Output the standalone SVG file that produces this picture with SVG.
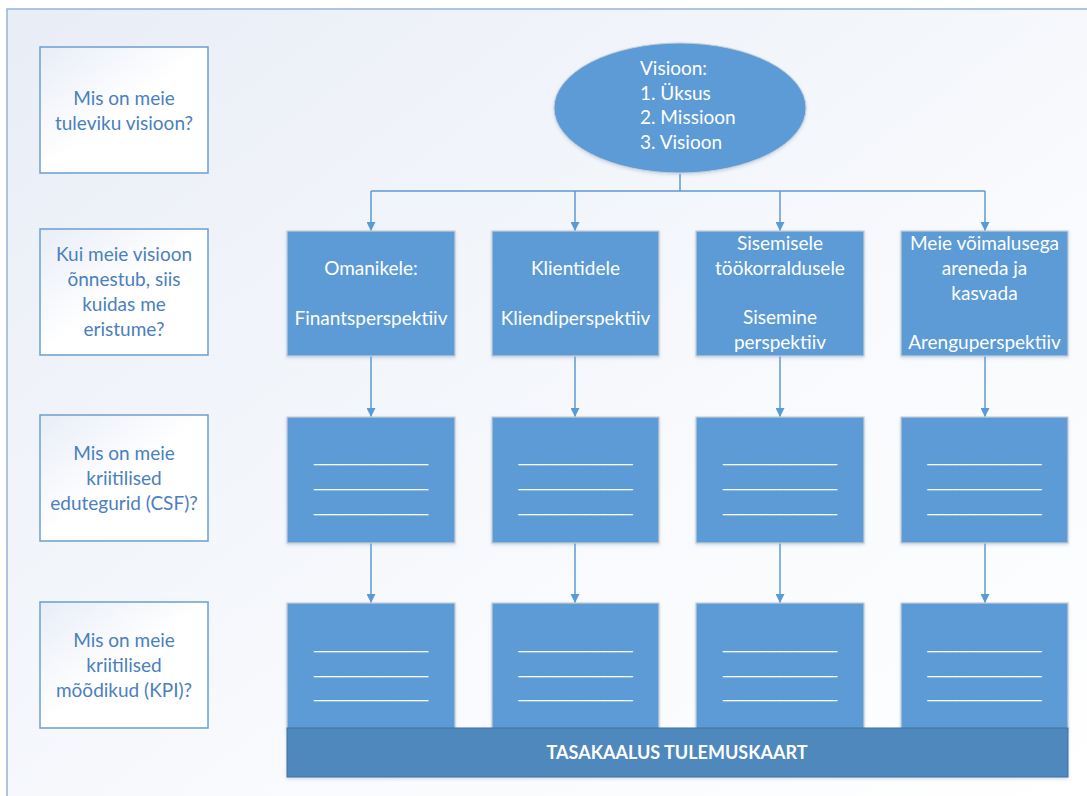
<svg xmlns="http://www.w3.org/2000/svg" width="1087" height="796" viewBox="0 0 1087 796">
<defs>
<linearGradient id="bg" x1="0" y1="0" x2="1" y2="1">
<stop offset="0" stop-color="#E9EDF6"/>
<stop offset="0.6" stop-color="#F8FAFD"/>
<stop offset="1" stop-color="#FFFFFF"/>
</linearGradient>
<linearGradient id="q" x1="0" y1="0" x2="1" y2="1">
<stop offset="0" stop-color="#E8EDF7"/>
<stop offset="0.5" stop-color="#FFFFFF"/>
<stop offset="1" stop-color="#FFFFFF"/>
</linearGradient>
<marker id="ah" viewBox="0 0 10 10" refX="10" refY="5" markerWidth="9" markerHeight="9" markerUnits="userSpaceOnUse" orient="auto">
<path d="M0,0 L10,5 L0,10 Z" fill="#5B9BD5"/>
</marker>
<filter id="sh" x="-5%" y="-5%" width="110%" height="115%">
<feDropShadow dx="0" dy="1.5" stdDeviation="1.5" flood-color="#7F9FC8" flood-opacity="0.35"/>
</filter>
</defs>
<style>
.q{fill:url(#q);stroke:#6A9ED3;stroke-width:1.5}
.qt{font-family:Lato,"Open Sans","Liberation Sans",sans-serif;font-size:19px;fill:#4A80BD;text-anchor:middle}
.b{fill:#5B9BD5;stroke:#C9CED6;stroke-width:1.2;filter:url(#sh)}
.bt{font-family:Lato,"Open Sans","Liberation Sans",sans-serif;font-size:19px;fill:#FFFFFF;text-anchor:middle}
.u{font-family:"Liberation Sans",sans-serif;font-size:18px;fill:#FFFFFF;text-anchor:middle}
.c{fill:none;stroke:#5B9BD5;stroke-width:1.5}
</style>
<rect x="0" y="0" width="1087" height="796" fill="#FFFFFF"/>
<rect x="7" y="9" width="1090" height="800" fill="url(#bg)" stroke="#95B3D7" stroke-width="1.5"/>

<g id="q1"><rect class="q" x="40" y="47" width="168" height="126"/>
<text class="qt" x="124" y="105">Mis on meie</text><text class="qt" x="124" y="130">tuleviku visioon?</text></g>
<g id="q2"><rect class="q" x="40" y="229" width="168" height="126"/>
<text class="qt" x="124" y="261">Kui meie visioon</text><text class="qt" x="124" y="286">õnnestub, siis</text><text class="qt" x="124" y="311">kuidas me</text><text class="qt" x="124" y="336">eristume?</text></g>
<g id="q3"><rect class="q" x="40" y="415" width="168" height="126"/>
<text class="qt" x="124" y="460">Mis on meie</text><text class="qt" x="124" y="485">kriitilised</text><text class="qt" x="124" y="510">edutegurid (CSF)?</text></g>
<g id="q4"><rect class="q" x="40" y="602" width="168" height="126"/>
<text class="qt" x="124" y="647">Mis on meie</text><text class="qt" x="124" y="672">kriitilised</text><text class="qt" x="124" y="697">mõõdikud (KPI)?</text></g>

<g id="connectors">
<path class="c" d="M680,174 V191 M371,191 H985"/>
<path class="c" d="M371,191 V231" marker-end="url(#ah)"/>
<path class="c" d="M575,191 V231" marker-end="url(#ah)"/>
<path class="c" d="M780,191 V231" marker-end="url(#ah)"/>
<path class="c" d="M985,191 V231" marker-end="url(#ah)"/>
<path class="c" d="M371,356 V417" marker-end="url(#ah)"/>
<path class="c" d="M575,356 V417" marker-end="url(#ah)"/>
<path class="c" d="M780,356 V417" marker-end="url(#ah)"/>
<path class="c" d="M985,356 V417" marker-end="url(#ah)"/>
<path class="c" d="M371,543 V603" marker-end="url(#ah)"/>
<path class="c" d="M575,543 V603" marker-end="url(#ah)"/>
<path class="c" d="M780,543 V603" marker-end="url(#ah)"/>
<path class="c" d="M985,543 V603" marker-end="url(#ah)"/>
</g>

<g id="vision"><ellipse cx="680" cy="108" rx="126" ry="65" fill="#5B9BD5" stroke="#C9CED6" stroke-width="1" filter="url(#sh)"/>
<text class="bt" style="text-anchor:start" x="640" y="75">Visioon:</text>
<text class="bt" style="text-anchor:start" x="640" y="100">1. Üksus</text>
<text class="bt" style="text-anchor:start" x="640" y="124">2. Missioon</text>
<text class="bt" style="text-anchor:start" x="640" y="149">3. Visioon</text></g>

<g id="p1"><rect class="b" x="287" y="231" width="168" height="125"/>
<text class="bt" x="371" y="275">Omanikele:</text><text class="bt" x="371" y="325">Finantsperspektiiv</text></g>
<g id="p2"><rect class="b" x="492" y="231" width="167" height="125"/>
<text class="bt" x="575.5" y="275">Klientidele</text><text class="bt" x="575.5" y="325">Kliendiperspektiiv</text></g>
<g id="p3"><rect class="b" x="696" y="231" width="168" height="125"/>
<text class="bt" x="780" y="250">Sisemisele</text><text class="bt" x="780" y="275">töökorraldusele</text><text class="bt" x="780" y="324">Sisemine</text><text class="bt" x="780" y="349">perspektiiv</text></g>
<g id="p4"><rect class="b" x="901" y="231" width="167" height="125"/>
<text class="bt" x="984.5" y="250">Meie võimalusega</text><text class="bt" x="984.5" y="275">areneda ja</text><text class="bt" x="984.5" y="300">kasvada</text><text class="bt" x="984.5" y="349">Arenguperspektiiv</text></g>

<g id="csf1"><rect class="b" x="287" y="417" width="168" height="126"/>
<text class="u" x="371" y="461" textLength="114" lengthAdjust="spacingAndGlyphs">____________</text>
<text class="u" x="371" y="486" textLength="114" lengthAdjust="spacingAndGlyphs">____________</text>
<text class="u" x="371" y="511" textLength="114" lengthAdjust="spacingAndGlyphs">____________</text></g>
<g id="csf2"><rect class="b" x="492" y="417" width="167" height="126"/>
<text class="u" x="575.5" y="461" textLength="114" lengthAdjust="spacingAndGlyphs">____________</text>
<text class="u" x="575.5" y="486" textLength="114" lengthAdjust="spacingAndGlyphs">____________</text>
<text class="u" x="575.5" y="511" textLength="114" lengthAdjust="spacingAndGlyphs">____________</text></g>
<g id="csf3"><rect class="b" x="696" y="417" width="168" height="126"/>
<text class="u" x="780" y="461" textLength="114" lengthAdjust="spacingAndGlyphs">____________</text>
<text class="u" x="780" y="486" textLength="114" lengthAdjust="spacingAndGlyphs">____________</text>
<text class="u" x="780" y="511" textLength="114" lengthAdjust="spacingAndGlyphs">____________</text></g>
<g id="csf4"><rect class="b" x="901" y="417" width="167" height="126"/>
<text class="u" x="984.5" y="461" textLength="114" lengthAdjust="spacingAndGlyphs">____________</text>
<text class="u" x="984.5" y="486" textLength="114" lengthAdjust="spacingAndGlyphs">____________</text>
<text class="u" x="984.5" y="511" textLength="114" lengthAdjust="spacingAndGlyphs">____________</text></g>

<g id="kpi1"><rect class="b" x="287" y="603" width="168" height="126"/>
<text class="u" x="371" y="648" textLength="114" lengthAdjust="spacingAndGlyphs">____________</text>
<text class="u" x="371" y="673" textLength="114" lengthAdjust="spacingAndGlyphs">____________</text>
<text class="u" x="371" y="697" textLength="114" lengthAdjust="spacingAndGlyphs">____________</text></g>
<g id="kpi2"><rect class="b" x="492" y="603" width="167" height="126"/>
<text class="u" x="575.5" y="648" textLength="114" lengthAdjust="spacingAndGlyphs">____________</text>
<text class="u" x="575.5" y="673" textLength="114" lengthAdjust="spacingAndGlyphs">____________</text>
<text class="u" x="575.5" y="697" textLength="114" lengthAdjust="spacingAndGlyphs">____________</text></g>
<g id="kpi3"><rect class="b" x="696" y="603" width="168" height="126"/>
<text class="u" x="780" y="648" textLength="114" lengthAdjust="spacingAndGlyphs">____________</text>
<text class="u" x="780" y="673" textLength="114" lengthAdjust="spacingAndGlyphs">____________</text>
<text class="u" x="780" y="697" textLength="114" lengthAdjust="spacingAndGlyphs">____________</text></g>
<g id="kpi4"><rect class="b" x="901" y="603" width="167" height="126"/>
<text class="u" x="984.5" y="648" textLength="114" lengthAdjust="spacingAndGlyphs">____________</text>
<text class="u" x="984.5" y="673" textLength="114" lengthAdjust="spacingAndGlyphs">____________</text>
<text class="u" x="984.5" y="697" textLength="114" lengthAdjust="spacingAndGlyphs">____________</text></g>

<g id="bar"><rect x="287" y="728" width="781" height="49" fill="#4F88BC" stroke="#41719C" stroke-width="1" filter="url(#sh)"/>
<text x="677" y="759" font-family="Lato,'Open Sans','Liberation Sans',sans-serif" font-size="18" font-weight="bold" fill="#FFFFFF" text-anchor="middle">TASAKAALUS TULEMUSKAART</text></g>
</svg>
